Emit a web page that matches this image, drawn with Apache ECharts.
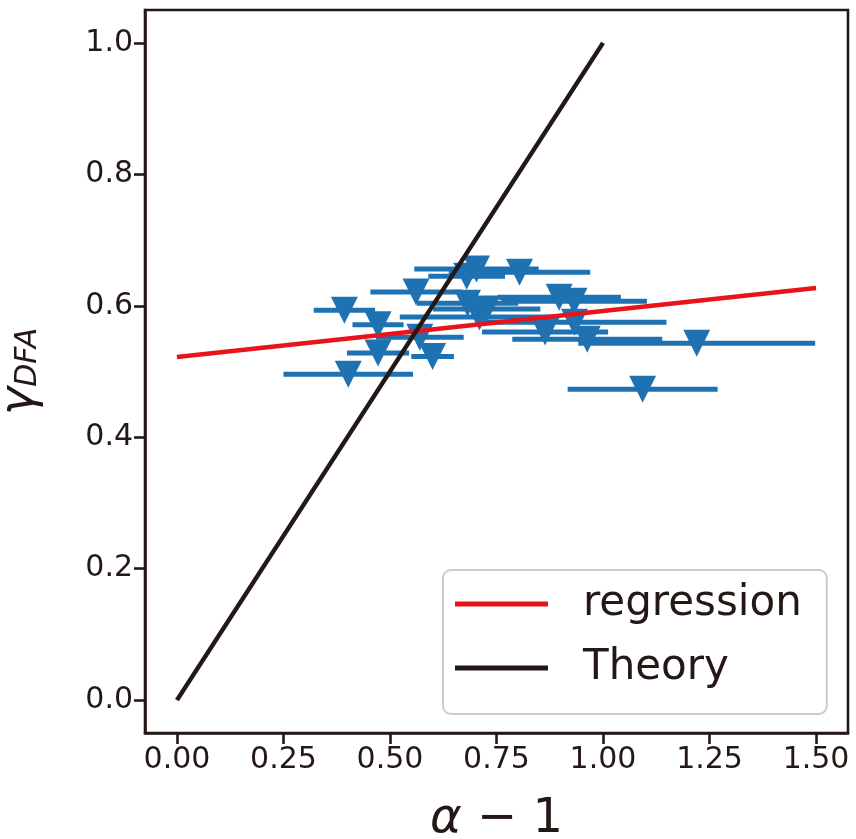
<!DOCTYPE html>
<html>
<head>
<meta charset="utf-8">
<script src="https://cdn.jsdelivr.net/npm/echarts@6/dist/echarts.min.js"></script>
<style>
  html, body { margin: 0; padding: 0; background: #ffffff; }
  #chart { width: 856px; height: 839px; }
</style>
</head>
<body>
<div id="chart"></div>
<script>
// Measured points: alpha - 1 (x), gamma_DFA (y) and horizontal error half-widths
const alphaMinus1 = [0.393, 0.472, 0.472, 0.402, 0.600, 0.561, 0.570, 0.703, 0.680, 0.804,
                     0.682, 0.727, 0.710, 0.897, 0.932, 0.933, 0.864, 0.963, 1.220, 1.093];
const gammaDFA    = [0.593, 0.571, 0.528, 0.496, 0.523, 0.621, 0.552, 0.656, 0.645, 0.651,
                     0.604, 0.595, 0.583, 0.613, 0.607, 0.575, 0.560, 0.549, 0.543, 0.473];
const xError      = [0.072, 0.060, 0.073, 0.152, 0.050, 0.107, 0.103, 0.146, 0.090, 0.166,
                     0.119, 0.126, 0.187, 0.145, 0.171, 0.216, 0.148, 0.176, 0.278, 0.176];

// Fitted regression line and the theoretical relation gamma = alpha - 1
const regressionX = [0.0, 1.5];
const regressionY = [0.522, 0.627];
const theoryX = [0.0, 1.0];
const theoryY = [0.0, 1.0];

// Tick positions
const xTicks = [0.00, 0.25, 0.50, 0.75, 1.00, 1.25, 1.50];
const yTicks = [0.0, 0.2, 0.4, 0.6, 0.8, 1.0];

const INK = '#231815';
const BLUE = '#1f72b2';
const RED = '#e8141b';
const FONT = 'DejaVu Sans';

const points = alphaMinus1.map((x, i) => [x, gammaDFA[i], xError[i]]);
const pairs = (xs, ys) => xs.map((x, i) => [x, ys[i]]);

const chart = echarts.init(document.getElementById('chart'), null, { renderer: 'canvas' });

chart.setOption({
  animation: false,
  backgroundColor: '#ffffff',
  textStyle: { fontFamily: FONT, color: INK },
  grid: {
    left: 145, right: 8, top: 10, bottom: 106,
    containLabel: false, outerBoundsMode: 'none',
    show: true, borderColor: INK, borderWidth: 2.6, backgroundColor: 'transparent'
  },
  xAxis: {
    type: 'value', min: -0.075, max: 1.575,
    axisLine: { show: true, onZero: false, lineStyle: { color: INK, width: 2.6 } },
    axisTick: { show: true, inside: false, length: 11, customValues: xTicks,
                lineStyle: { color: INK, width: 2.6 } },
    axisLabel: { show: true, customValues: xTicks, margin: 12, fontSize: 30,
                 fontFamily: FONT, color: INK, formatter: v => v.toFixed(2) },
    splitLine: { show: false },
    name: '{a|α}{b| − 1}', nameLocation: 'middle', nameGap: 63,
    nameTextStyle: {
      verticalAlign: 'top',
      rich: {
        a: { fontSize: 48, fontStyle: 'italic', fontFamily: FONT, color: INK },
        b: { fontSize: 48, fontFamily: FONT, color: INK }
      }
    }
  },
  yAxis: {
    type: 'value', min: -0.05, max: 1.05,
    axisLine: { show: true, onZero: false, lineStyle: { color: INK, width: 2.6 } },
    axisTick: { show: true, inside: false, length: 11, customValues: yTicks,
                lineStyle: { color: INK, width: 2.6 } },
    axisLabel: { show: true, customValues: yTicks, margin: 12, fontSize: 30,
                 fontFamily: FONT, color: INK, formatter: v => v.toFixed(1) },
    splitLine: { show: false },
    name: '{g|γ}{s|DFA}', nameLocation: 'middle', nameGap: 100, nameRotate: 90,
    nameTextStyle: {
      rich: {
        g: { fontSize: 48, fontStyle: 'italic', fontFamily: FONT, color: INK },
        s: { fontSize: 30, fontStyle: 'italic', fontFamily: FONT, color: INK,
             padding: [14, 0, 0, 0] }
      }
    }
  },
  legend: {
    orient: 'vertical', left: 443, top: 570,
    padding: [10, 25, 22, 12],
    itemWidth: 93, itemHeight: 5, itemGap: 16,
    backgroundColor: 'rgba(255,255,255,0.8)',
    borderColor: '#cccccc', borderWidth: 2, borderRadius: 8,
    textStyle: { fontSize: 42, fontFamily: FONT, color: INK, lineHeight: 48,
                 padding: [0, 0, 0, 30] },
    data: [{ name: 'regression', icon: 'rect' }, { name: 'Theory', icon: 'rect' }]
  },
  series: [
    {
      name: 'errorbars', type: 'custom', data: points, z: 2, silent: true,
      renderItem: (params, api) => {
        const x = api.value(0), y = api.value(1), e = api.value(2);
        const p0 = api.coord([x - e, y]);
        const p1 = api.coord([x + e, y]);
        return {
          type: 'line',
          shape: { x1: p0[0], y1: p0[1], x2: p1[0], y2: p1[1] },
          style: { stroke: BLUE, lineWidth: 5 }
        };
      }
    },
    {
      name: 'points', type: 'scatter', data: points.map(p => [p[0], p[1]]), z: 3,
      symbol: 'triangle', symbolRotate: 180, symbolSize: 27,
      itemStyle: { color: BLUE, opacity: 1 }
    },
    {
      name: 'regression', type: 'line', data: pairs(regressionX, regressionY), z: 4,
      showSymbol: false, symbol: 'none',
      lineStyle: { color: RED, width: 4.5 }, itemStyle: { color: RED }
    },
    {
      name: 'Theory', type: 'line', data: pairs(theoryX, theoryY), z: 5,
      showSymbol: false, symbol: 'none',
      lineStyle: { color: INK, width: 4.5 }, itemStyle: { color: INK }
    }
  ]
});
</script>
</body>
</html>
